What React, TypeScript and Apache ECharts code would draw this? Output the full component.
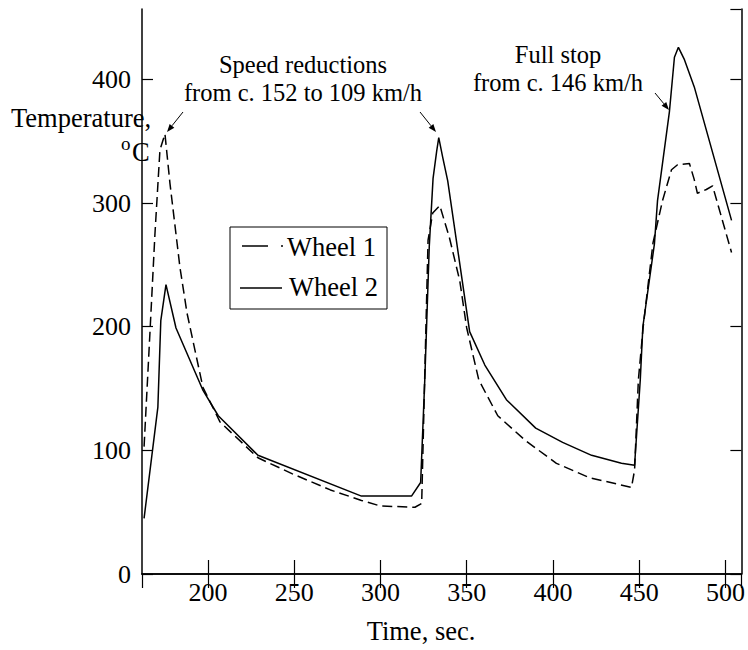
import React, { useEffect, useRef } from "react";
import * as echarts from "echarts";

// Wheel 1 (dashed)
const time1 = [163, 166.4, 169.3, 172.2, 175.1, 178, 183.8, 187.9, 197.1, 207, 229, 249, 271, 289, 300, 320, 323.9, 325.5, 327.6, 330.3, 334.4, 340, 346, 350, 357, 368, 384, 402, 421, 445.5, 447.3, 449.5, 452.3, 458, 463.5, 468.7, 472.2, 479.1, 481.9, 483.7, 488.9, 492.5, 503.5];
const wheel1 = [103, 195, 275, 343, 356, 316, 248, 211, 151, 123, 94, 81, 68, 59.5, 55, 54, 57, 150, 270, 292, 298, 272, 237, 199, 157, 128, 108, 89.5, 78, 70, 84, 157, 200, 268, 302, 327, 331, 332, 319, 308, 311, 314, 260];

// Wheel 2 (solid)
const time2 = [163, 171, 172.7, 175.7, 181.5, 197, 206, 229, 289, 318, 323.3, 325.7, 328.3, 330.5, 332.6, 333.8, 336.1, 339, 351.7, 360.5, 373, 390, 405.6, 422.4, 439.7, 447.3, 450.6, 452.1, 458.8, 460.6, 467.5, 470.4, 472.7, 476.2, 481.9, 503.5];
const wheel2 = [45, 135, 205, 234, 199, 149, 128, 96, 63, 63, 74, 157, 265, 320, 342, 353, 337, 318, 196, 169, 141, 118, 106.5, 96, 89.5, 88, 157, 200, 267, 302, 374, 418, 426, 416, 394, 286];

const seriesNames = ["Wheel 1", "Wheel 2"];
const xRange = [161.8, 509.2];
const yRange = [0, 457];

const FONT = "'Liberation Serif', 'Times New Roman', Times, 'DejaVu Serif', serif";
const TEXT_SIZE = 26.5;
const NOTE_SIZE = 24.5;
const TICK_SIZE = 26;

function arrow(x1: number, y1: number, x2: number, y2: number) {
  const dx = x2 - x1, dy = y2 - y1;
  const len = Math.sqrt(dx * dx + dy * dy);
  const ux = dx / len, uy = dy / len;
  const hl = 8, hw = 3;
  const bx = x2 - ux * hl, by = y2 - uy * hl;
  return [
    { type: "line", shape: { x1, y1, x2: bx, y2: by }, style: { stroke: "#000", lineWidth: 1 } },
    {
      type: "polygon",
      shape: { points: [[x2, y2], [bx - uy * hw, by + ux * hw], [bx + uy * hw, by - ux * hw]] },
      style: { fill: "#000" },
    },
  ];
}

function txt(text: string, x: number, y: number, align: string, size = TEXT_SIZE, lineHeight?: number) {
  return {
    type: "text",
    x,
    y,
    style: {
      text,
      fontFamily: FONT,
      fontSize: size,
      lineHeight: lineHeight ?? size,
      fill: "#000",
      align,
      verticalAlign: "middle",
    },
  };
}

export default function App() {
  const ref = useRef<HTMLDivElement>(null);
  useEffect(() => {
    if (!ref.current) return;
    const chart = echarts.init(ref.current, undefined, { renderer: "svg" });
    const axisLine = { show: true, lineStyle: { color: "#000", width: 1.5 } };
    const labelStyle = { fontFamily: FONT, fontSize: TICK_SIZE, color: "#000" };
    const xCommon = {
      type: "value",
      min: xRange[0],
      max: xRange[1],
      splitNumber: 7,
      minInterval: 50,
      maxInterval: 50,
      axisLine,
      splitLine: { show: false },
      axisTick: { show: true, inside: true, length: 14, lineStyle: { color: "#000", width: 1.2 } },
    };
    const yCommon = {
      type: "value",
      min: yRange[0],
      max: yRange[1],
      interval: 100,
      axisLine,
      splitLine: { show: false },
      axisTick: { show: true, inside: true, length: 11, lineStyle: { color: "#000", width: 1.2 } },
    };
    chart.setOption({
      animation: false,
      textStyle: { fontFamily: FONT },
      grid: { left: 142, right: 6, top: 9, bottom: 76, containLabel: false },
      xAxis: [
        {
          ...xCommon,
          position: "bottom",
          axisLabel: { ...labelStyle, margin: 5, showMinLabel: false, showMaxLabel: false },
        },
        { ...xCommon, position: "top", axisLabel: { show: false } },
      ],
      yAxis: [
        {
          ...yCommon,
          position: "left",
          axisLabel: { ...labelStyle, margin: 11, showMaxLabel: false },
        },
        { ...yCommon, position: "right", axisLabel: { show: false } },
      ],
      series: [
        {
          name: seriesNames[0],
          type: "line",
          data: time1.map((t, i) => [t, wheel1[i]]),
          symbol: "none",
          lineStyle: { color: "#000", width: 1.5, type: [10, 5] },
        },
        {
          name: seriesNames[1],
          type: "line",
          data: time2.map((t, i) => [t, wheel2[i]]),
          symbol: "none",
          lineStyle: { color: "#000", width: 1.5, type: "solid" },
        },
      ],
      graphic: [
        // legend
        { type: "rect", shape: { x: 230, y: 227, width: 157, height: 82 }, style: { fill: "none", stroke: "#000", lineWidth: 1 } },
        { type: "line", shape: { x1: 242, y1: 246, x2: 268, y2: 246 }, style: { stroke: "#000", lineWidth: 1.5 } },
        { type: "line", shape: { x1: 281, y1: 246, x2: 283, y2: 246 }, style: { stroke: "#000", lineWidth: 1.5 } },
        { type: "line", shape: { x1: 240, y1: 288, x2: 282, y2: 288 }, style: { stroke: "#000", lineWidth: 1.5 } },
        txt(seriesNames[0], 287, 247, "left"),
        txt(seriesNames[1], 289, 287, "left"),
        // annotations
        txt("Speed reductions\nfrom c. 152 to 109 km/h", 303, 78.5, "center", NOTE_SIZE, 28.5),
        txt("Full stop\nfrom c. 146 km/h", 558, 68.5, "center", NOTE_SIZE, 28.5),
        ...arrow(183, 112, 167, 132),
        ...arrow(420, 112, 436, 132),
        ...arrow(655, 93, 669, 110),
        // axis titles
        txt("Temperature,", 11, 118, "left"),
        txt("o", 121, 143, "left", 19),
        txt("C", 132, 152, "left"),
        txt("Time, sec.", 421, 631, "center"),
      ],
    });
    return () => chart.dispose();
  }, []);
  return <div ref={ref} style={{ position: "fixed", left: 0, top: 0, width: 748, height: 650, background: "#fff" }} />;
}
